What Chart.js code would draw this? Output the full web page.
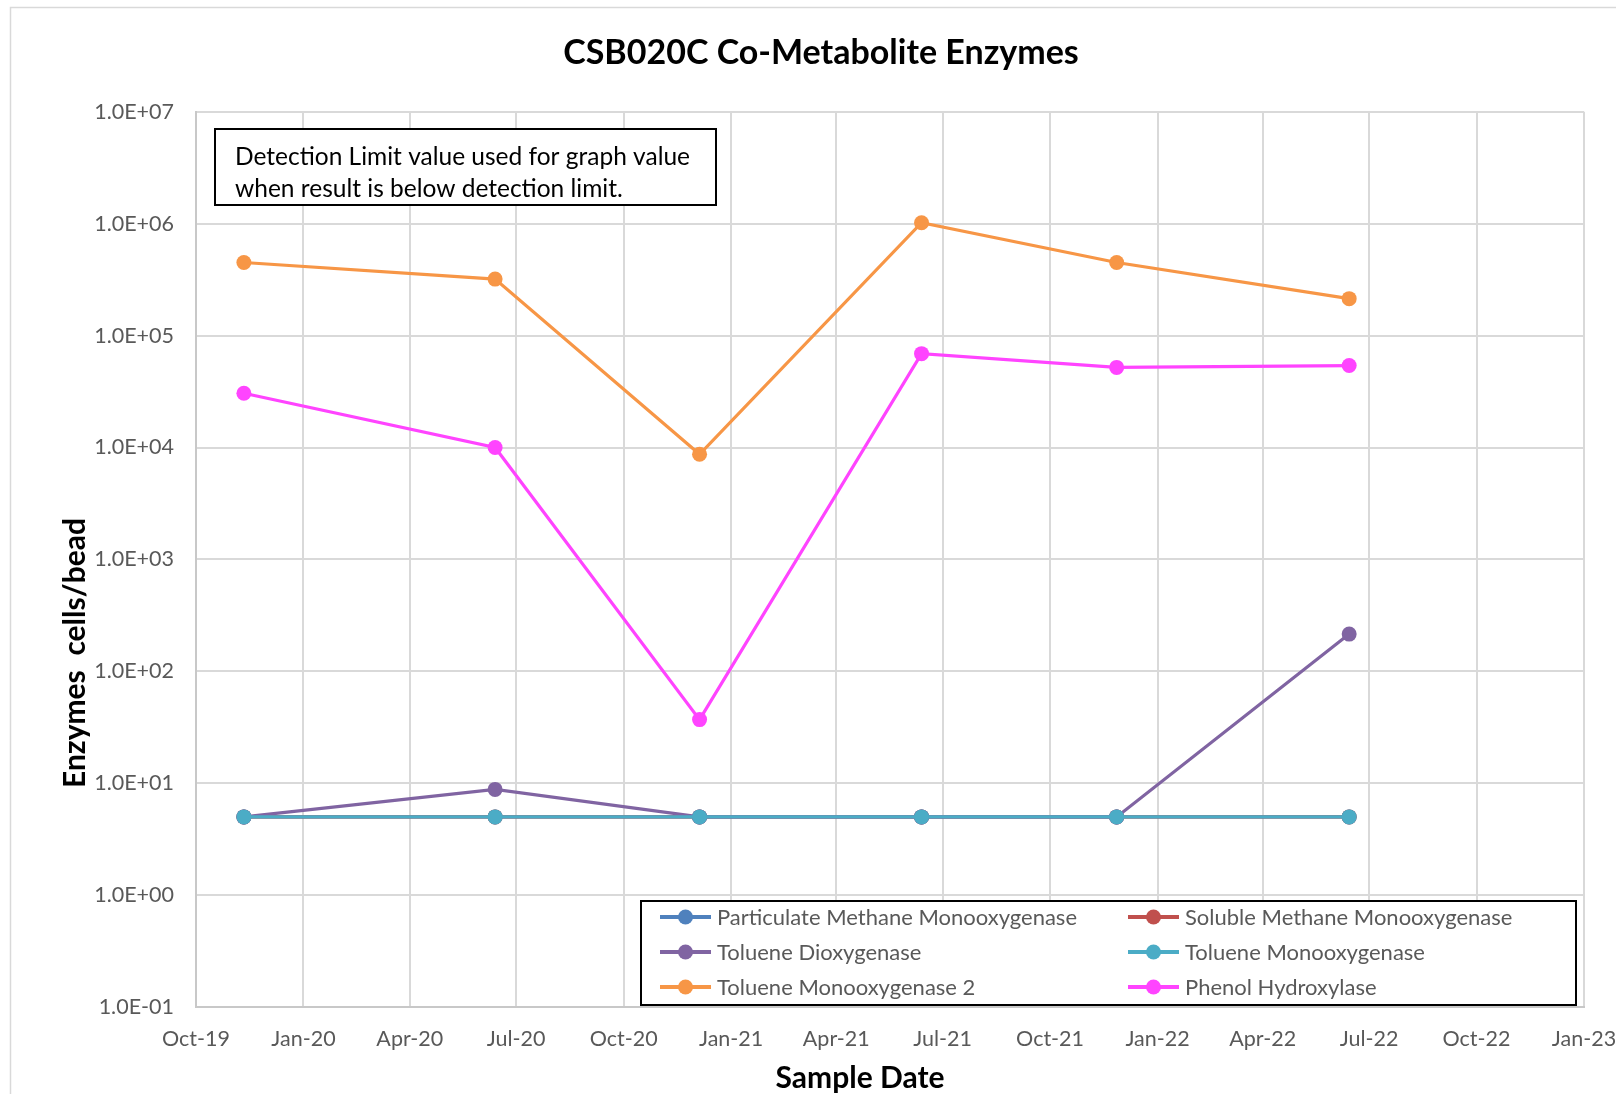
<!DOCTYPE html>
<html>
<head>
<meta charset="utf-8">
<script src="https://cdn.jsdelivr.net/npm/chart.js@4/dist/chart.umd.min.js"></script>
<style>
  html, body { margin: 0; padding: 0; background: #fff; }
  #wrap { width: 1616px; height: 1094px; position: relative; }
</style>
</head>
<body>
<div id="wrap"><canvas id="lineChart" width="1616" height="1094"></canvas></div>
<script>
const FONT = 'Lato, "Open Sans", sans-serif'

const sampleDates = ['2019-11-11', '2020-06-13', '2020-12-05', '2021-06-13', '2021-11-27', '2022-06-14']
const pmmo = [5, 5, 5, 5, 5, 5]
const smmo = [5, 5, 5, 5, 5, 5]
const tolueneDiox = [5, 8.8, 5, 5, 5, 215]
const tolueneMono = [5, 5, 5, 5, 5, 5]
const tolueneMono2 = [450000, 320000, 8700, 1020000, 450000, 214000]
const phenolHydrox = [30500, 10000, 37, 69000, 52000, 54000]

const seriesNames = ['Particulate Methane Monooxygenase', 'Soluble Methane Monooxygenase', 'Toluene Dioxygenase',
  'Toluene Monooxygenase', 'Toluene Monooxygenase 2', 'Phenol Hydroxylase']
const seriesColors = ['#4F81BD', '#C0504D', '#8064A2', '#4BACC6', '#F79646', '#FF44FF']
const seriesValues = [pmmo, smmo, tolueneDiox, tolueneMono, tolueneMono2, phenolHydrox]

const xTickDates = ['2019-10-01', '2020-01-01', '2020-04-01', '2020-07-01', '2020-10-01', '2021-01-01', '2021-04-01',
  '2021-07-01', '2021-10-01', '2022-01-01', '2022-04-01', '2022-07-01', '2022-10-01', '2023-01-01']
const xTickLabels = ['Oct-19', 'Jan-20', 'Apr-20', 'Jul-20', 'Oct-20', 'Jan-21', 'Apr-21',
  'Jul-21', 'Oct-21', 'Jan-22', 'Apr-22', 'Jul-22', 'Oct-22', 'Jan-23']
const yTicks = [0.1, 1, 10, 100, 1000, 10000, 100000, 1000000, 10000000]

const noteLines = ['Detection Limit value used for graph value', 'when result is below detection limit.']

function sci(v) {
  let [m, e] = v.toExponential(1).split('e')
  let n = parseInt(e, 10)
  let s = n < 0 ? '-' : '+'
  return m + 'E' + s + String(Math.abs(n)).padStart(2, '0')
}

const datasets = seriesNames.map((name, i) => ({
  label: name,
  data: sampleDates.map((d, j) => ({x: Date.parse(d), y: seriesValues[i][j]})),
  borderColor: seriesColors[i],
  backgroundColor: seriesColors[i],
  pointBackgroundColor: seriesColors[i],
  pointBorderWidth: 0,
  pointRadius: 7.5,
  borderWidth: 3.2,
  tension: 0,
  order: 10 - i
}))

// frame, note box, axis titles and legend box
const extras = {
  id: 'extras',
  beforeDraw(chart) {
    const c = chart.ctx
    c.save()
    c.fillStyle = '#fff'
    c.fillRect(0, 0, chart.width, chart.height)
    c.strokeStyle = '#d9d9d9'
    c.lineWidth = 1.5
    c.beginPath()
    c.moveTo(10.5, chart.height)
    c.lineTo(10.5, 7.5)
    c.lineTo(chart.width, 7.5)
    c.stroke()
    c.restore()
  },
  afterDraw(chart) {
    const c = chart.ctx
    c.save()
    // note box
    c.fillStyle = '#fff'
    c.fillRect(215, 129, 501, 76)
    c.strokeStyle = '#000'
    c.lineWidth = 2
    c.strokeRect(215, 129, 501, 76)
    c.fillStyle = '#000'
    c.font = '24.5px ' + FONT
    c.textBaseline = 'middle'
    c.textAlign = 'left'
    c.fillText(noteLines[0], 235, 157)
    c.fillText(noteLines[1], 235, 189)

    // axis titles
    c.font = 'bold 30px ' + FONT
    c.textAlign = 'center'
    c.fillText('Sample Date', 860, 1078)
    c.save()
    c.translate(75, 653)
    c.rotate(-Math.PI / 2)
    c.fillText('Enzymes  cells/bead', 0, 0)
    c.restore()

    // legend
    const lx = 641, ly = 901, lw = 935, lh = 104
    c.fillStyle = '#fff'
    c.fillRect(lx, ly, lw, lh)
    c.strokeStyle = '#000'
    c.lineWidth = 2
    c.strokeRect(lx, ly, lw, lh)
    c.font = '22px ' + FONT
    c.textAlign = 'left'
    chart.data.datasets.forEach((ds, i) => {
      const col = i % 2, row = Math.floor(i / 2)
      const x0 = col === 0 ? 660 : 1128
      const y0 = 917 + row * 35
      c.strokeStyle = ds.borderColor
      c.lineWidth = 4
      c.beginPath()
      c.moveTo(x0, y0)
      c.lineTo(x0 + 51, y0)
      c.stroke()
      c.fillStyle = ds.borderColor
      c.beginPath()
      c.arc(x0 + 25.5, y0, 7.5, 0, Math.PI * 2)
      c.fill()
      c.fillStyle = '#595959'
      c.fillText(ds.label, x0 + 57, y0 + 1)
    })
    c.restore()
  }
}

new Chart(document.getElementById('lineChart'), {
  type: 'line',
  data: { datasets },
  plugins: [extras],
  options: {
    responsive: false,
    animation: false,
    layout: { padding: { left: 58, right: 32, top: 0, bottom: 0 } },
    plugins: {
      legend: { display: false },
      tooltip: { enabled: false },
      title: {
        display: true,
        text: 'CSB020C Co-Metabolite Enzymes',
        color: '#000',
        font: { family: FONT, size: 34, weight: 'bold', lineHeight: 1.2 },
        padding: { top: 33, bottom: 38 }
      }
    },
    scales: {
      x: {
        type: 'linear',
        min: Date.parse(xTickDates[0]),
        max: Date.parse(xTickDates[xTickDates.length - 1]),
        afterBuildTicks: s => { s.ticks = xTickDates.map(d => ({value: Date.parse(d)})) },
        afterFit: s => { s.height = 87; s.paddingLeft = 0; s.paddingRight = 0 },
        grid: { color: '#d9d9d9', lineWidth: 2, drawTicks: false },
        border: { color: '#c8c8c8', width: 2 },
        ticks: {
          autoSkip: false, maxRotation: 0, padding: 19, color: '#595959',
          font: { family: FONT, size: 21.5 },
          callback: (v, i) => xTickLabels[i]
        }
      },
      y: {
        type: 'logarithmic',
        min: yTicks[0],
        max: yTicks[yTicks.length - 1],
        afterBuildTicks: s => { s.ticks = yTicks.map(v => ({value: v})) },
        afterFit: s => { s.width = 138; s.paddingTop = 0; s.paddingBottom = 0 },
        grid: { color: '#d9d9d9', lineWidth: 2, drawTicks: false },
        border: { color: '#c8c8c8', width: 2 },
        ticks: {
          padding: 22, color: '#595959',
          font: { family: FONT, size: 21.5 },
          callback: v => sci(v)
        }
      }
    }
  }
})
</script>
</body>
</html>
